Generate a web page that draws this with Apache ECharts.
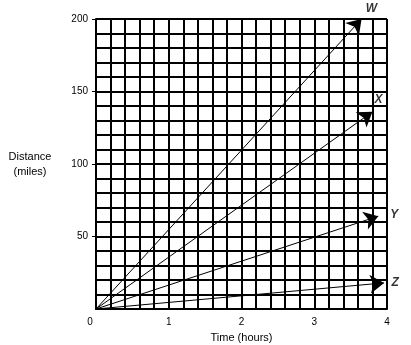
<!DOCTYPE html>
<html>
<head>
<meta charset="utf-8">
<script src="https://cdn.jsdelivr.net/npm/echarts@6/dist/echarts.min.js"></script>
<style>
  html, body { margin: 0; padding: 0; background: #fff; }
  #chart { width: 411px; height: 345px; }
</style>
</head>
<body>
<div id="chart"></div>
<script>
// lines start at the origin, end where the arrow tips are
const names = ['W', 'X', 'Y', 'Z'];
const endHours = [3.65, 3.8, 3.88, 3.96];
const endMiles = [200, 136, 64, 18];
const xTicks = [0, 1, 2, 3, 4];
const yTicks = [50, 100, 150, 200];

const myChart = echarts.init(document.querySelector('#chart'));
const font = 'Liberation Sans, Arial, sans-serif';

// label centre relative to the arrow tip, px
const labelShift = [[10, -10], [6, -12], [16, -2], [11, 0]];

myChart.setOption({
  animation: false,
  grid: { left: 96, right: 24, top: 19, bottom: 36, outerBoundsMode: 'none', containLabel: false },
  xAxis: {
    type: 'value', min: 0, max: 4, interval: 1,
    name: 'Time (hours)', nameLocation: 'middle', nameGap: 23,
    nameTextStyle: { color: '#000', fontFamily: font, fontSize: 11 },
    axisLine: { show: true, lineStyle: { color: '#000', width: 2 } },
    axisTick: { show: false },
    axisLabel: {
      color: '#000', fontFamily: font, fontSize: 10, margin: 8,
      formatter: v => xTicks.includes(v) ? (v === 0 ? '{z|0}' : String(v)) : '',
      rich: { z: { padding: [0, 12, 0, 0], fontSize: 10, fontFamily: font, color: '#000' } }
    },
    splitLine: { show: true, lineStyle: { color: '#000', width: 2 } },
    minorTick: { show: false, splitNumber: 5 },
    minorSplitLine: { show: true, lineStyle: { color: '#000', width: 2 } }
  },
  yAxis: {
    type: 'value', min: 0, max: 200, interval: 50,
    name: 'Distance\n(miles)', nameLocation: 'middle', nameGap: 66, nameRotate: 0,
    nameTextStyle: { color: '#000', fontFamily: font, fontSize: 11, lineHeight: 15, align: 'center' },
    axisLine: { show: true, lineStyle: { color: '#000', width: 2 } },
    axisTick: { show: true, length: 4, lineStyle: { color: '#000', width: 1 } },
    axisLabel: {
      color: '#000', fontFamily: font, fontSize: 10, margin: 8,
      showMinLabel: false,
      formatter: v => yTicks.includes(v) ? String(v) : ''
    },
    splitLine: { show: true, lineStyle: { color: '#000', width: 2 } },
    minorTick: { show: false, splitNumber: 5 },
    minorSplitLine: { show: true, lineStyle: { color: '#000', width: 2 } }
  },
  series: [{
    type: 'lines',
    coordinateSystem: 'cartesian2d',
    polyline: false,
    clip: false,
    symbol: ['none', 'arrow'],
    symbolSize: 14,
    lineStyle: { color: '#000', width: 1, opacity: 1 },
    z: 5,
    data: names.map((n, i) => ({
      name: n,
      coords: [[0, 0], [endHours[i], endMiles[i]]]
    }))
  }, {
    type: 'scatter',
    clip: false,
    symbol: 'circle',
    symbolSize: 2,
    itemStyle: { color: 'rgba(0,0,0,0)' },
    z: 6,
    silent: true,
    label: {
      show: true,
      color: '#000', fontFamily: font, fontSize: 12,
      fontWeight: 'bold', fontStyle: 'italic',
      align: 'center', verticalAlign: 'middle',
      formatter: p => p.name
    },
    labelLayout: { hideOverlap: false },
    data: names.map((n, i) => ({
      name: n,
      value: [endHours[i], endMiles[i]],
      label: { position: [1 + labelShift[i][0], 1 + labelShift[i][1]] }
    }))
  }]
});
</script>
</body>
</html>
